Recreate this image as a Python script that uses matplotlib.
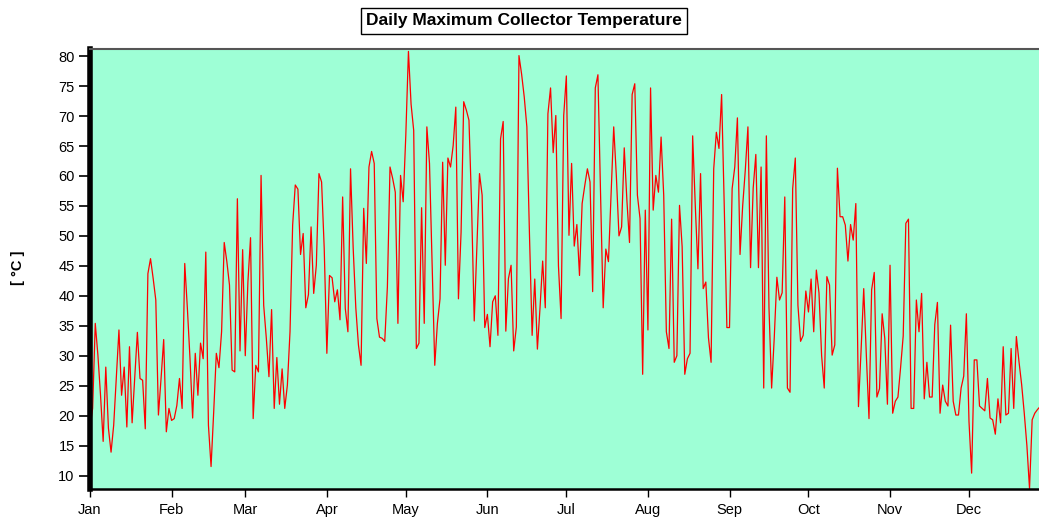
import numpy as np
import matplotlib
matplotlib.use("Agg")
import matplotlib.pyplot as plt

# Daily maximum collector temperature [°C], one list per month
jan = [17.9, 21.2, 35.4, 30.1, 23.4, 15.7, 28.1, 17.9, 13.9, 18.4, 26.2, 34.3, 23.4, 28.1, 18.1, 31.5,
       18.8, 26.2, 33.9, 26.2, 25.9, 17.8, 43.7, 46.2, 42.9, 39.3, 20.1, 26.2, 32.7, 17.3, 21.2]
feb = [19.2, 19.5, 21.7, 26.2, 21.2, 45.4, 37.9, 29.5, 19.6, 30.4, 23.4, 32.1, 29.5, 47.3,
       18.4, 11.5, 20.6, 30.4, 28.0, 34.0, 48.9, 45.7, 41.8, 27.6, 27.3, 56.2, 30.8, 47.7]
mar = [30.0, 42.3, 49.7, 19.5, 28.4, 27.3, 60.1, 38.4, 32.9, 26.5, 37.7, 21.2, 29.7, 21.9, 27.8, 21.2,
       25.1, 34.0, 51.8, 58.5, 57.8, 46.9, 50.4, 38.0, 40.2, 51.5, 40.4, 45.1, 60.4, 59.0, 47.9]
apr = [30.4, 43.4, 43.0, 39.0, 41.0, 36.0, 56.5, 37.9, 34.0, 61.2, 48.0, 38.0, 31.8, 28.4, 54.6,
       45.4, 61.5, 64.1, 62.1, 36.2, 33.1, 32.9, 32.4, 41.5, 61.5, 59.6, 57.3, 35.4, 60.1, 55.7]
may = [66.8, 80.8, 72.0, 67.6, 31.2, 32.1, 54.7, 35.4, 68.2, 62.1, 45.0, 28.4, 35.4, 39.5, 62.3, 45.1,
       63.0, 61.5, 65.1, 71.5, 39.5, 50.6, 72.4, 71.0, 69.3, 55.0, 35.8, 48.0, 60.4, 56.8, 34.7]
jun = [36.9, 31.5, 39.0, 40.0, 33.4, 66.2, 69.1, 34.1, 42.9, 45.1, 30.8, 34.8, 80.1, 77.0, 73.2,
       68.2, 50.0, 33.4, 42.8, 31.1, 38.0, 45.8, 38.0, 70.4, 74.7, 63.9, 70.1, 45.0, 36.2, 70.1]
jul = [76.7, 50.1, 62.1, 48.3, 51.9, 43.4, 55.4, 58.4, 61.2, 59.0, 40.7, 74.7, 76.9, 57.0, 38.0, 47.8,
       45.7, 57.0, 68.2, 60.0, 50.0, 51.5, 64.7, 56.0, 48.9, 73.6, 75.4, 56.8, 52.9, 26.9, 54.3]
aug = [34.3, 74.7, 54.3, 60.1, 57.3, 66.5, 56.8, 34.0, 31.2, 52.8, 28.9, 30.0, 55.1, 48.2, 26.9, 29.5,
       30.4, 66.7, 55.0, 44.5, 60.4, 41.2, 42.3, 33.0, 28.9, 61.2, 67.3, 64.6, 73.6, 55.0, 34.7]
sep = [34.7, 57.9, 61.5, 69.7, 46.9, 55.0, 61.0, 68.2, 44.7, 58.0, 63.6, 44.7, 61.5, 24.6, 66.7,
       38.0, 24.6, 33.0, 43.1, 39.3, 40.5, 56.5, 24.6, 23.9, 57.9, 63.0, 38.4, 32.4, 33.4, 40.8]
oct_ = [37.3, 42.8, 34.0, 44.3, 40.5, 30.0, 24.6, 43.2, 41.8, 30.1, 31.8, 61.3, 53.2, 53.2, 51.8, 45.8,
        51.9, 49.3, 55.4, 21.5, 31.0, 41.2, 30.0, 19.5, 41.0, 43.9, 23.1, 24.5, 37.0, 32.9, 21.9]
nov = [45.1, 20.4, 22.4, 23.1, 28.0, 33.3, 52.1, 52.8, 21.2, 21.2, 39.3, 34.0, 40.4, 22.8, 28.9,
       23.1, 23.1, 35.2, 38.9, 20.4, 25.1, 22.4, 21.6, 35.1, 22.4, 20.1, 20.1, 24.6, 26.6, 37.0]
dec = [19.0, 10.4, 29.3, 29.3, 21.6, 21.2, 20.8, 26.2, 19.6, 19.3, 16.9, 22.8, 18.8, 31.5,
       20.1, 20.4, 31.2, 21.2, 33.2, 29.0, 25.2, 20.4, 15.0, 7.8, 19.3, 20.4, 21.0, 21.5]

month_labels = ["Jan", "Feb", "Mar", "Apr", "May", "Jun",
                "Jul", "Aug", "Sep", "Oct", "Nov", "Dec"]
month_start_day = [0, 31, 59, 90, 120, 151, 181, 212, 243, 273, 304, 334]
y_ticks = [10, 15, 20, 25, 30, 35, 40, 45, 50, 55, 60, 65, 70, 75, 80]

temps = np.array(jan + feb + mar + apr + may + jun + jul + aug + sep + oct_ + nov + dec)
days = np.arange(len(temps))

plt.rcParams['font.family'] = ['Liberation Sans', 'DejaVu Sans']

fig = plt.figure(figsize=(10.39, 5.18), dpi=100)
ax = fig.add_axes([90 / 1039, 1 - 489 / 518, 1 - 90 / 1039, (489 - 49) / 518])
ax.set_facecolor('#9EFFD6')

ax.plot(days, temps, color='#FF0000', lw=0.9, clip_on=True)

ax.set_xlim(0, 360.6)
ax.set_ylim(7.75, 81.2)

ax.set_yticks(y_ticks)
ax.set_yticklabels([str(v) for v in y_ticks], fontsize=10.5)
ax.set_xticks(month_start_day)
ax.set_xticklabels(month_labels, fontsize=10.5)

ax.tick_params(axis='y', direction='out', length=8, width=1.2, color='black', pad=3)
ax.tick_params(axis='x', direction='out', length=6, width=1.0, color='black', pad=4)

ax.spines['right'].set_visible(False)
ax.spines['left'].set_linewidth(4)
ax.spines['left'].set_color('black')
ax.spines['bottom'].set_linewidth(1.8)
ax.spines['bottom'].set_color('black')
ax.spines['top'].set_linewidth(1.5)
ax.spines['top'].set_color('#555555')

fig.text(18 / 1039, 1 - 268 / 518, "[ °C ]", rotation=90, fontsize=10.5, fontweight='bold',
         ha='center', va='center')

fig.text(524 / 1039, 1 - 21 / 518, "Daily Maximum Collector Temperature", fontsize=12.5,
         fontweight='bold', ha='center', va='center',
         bbox=dict(boxstyle='square,pad=0.3', facecolor='white', edgecolor='black', linewidth=1))

fig.savefig('out.png', dpi=100)
